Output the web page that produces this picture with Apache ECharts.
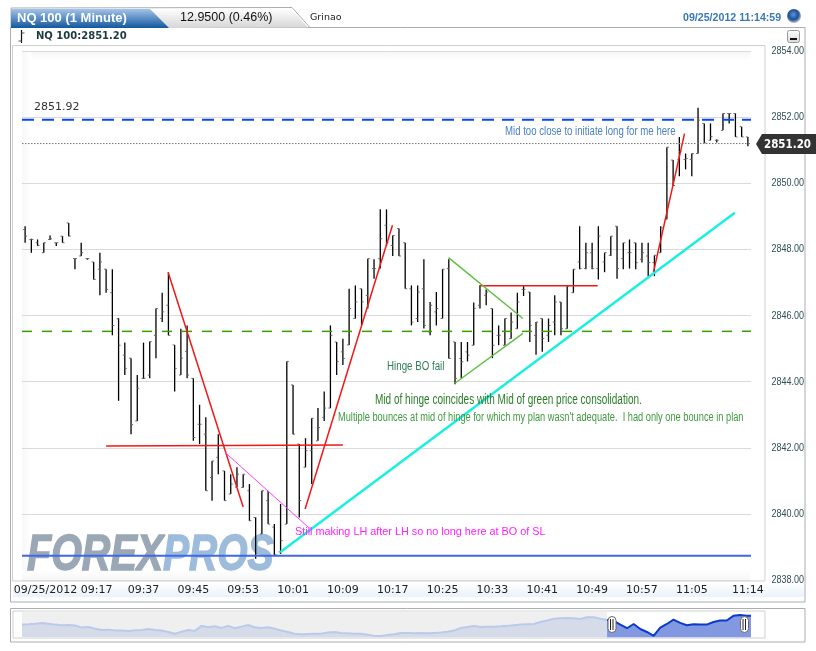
<!DOCTYPE html>
<html><head><meta charset="utf-8">
<style>html,body{margin:0;padding:0;background:#fff}#c{width:816px;height:651px}</style>
<script src="https://cdn.jsdelivr.net/npm/echarts@6/dist/echarts.min.js"></script>
</head><body><div id="c"></div>
<script>
var opens=[2848.60,2848.30,2848.20,2847.90,2848.30,2848.20,2848.40,2848.80,2847.72,2847.80,2847.72,2847.62,2847.40,2847.40,2846.69,
2845.90,2844.80,2844.71,2842.81,2844.10,2844.20,2845.40,2845.91,2846.31,2845.11,2844.20,2844.91,2844.10,2842.71,2842.41,
2841.10,2841.71,2841.30,2840.60,2840.81,2840.80,2840.70,2839.89,2839.39,2840.40,2839.60,2838.85,2839.69,2843.90,2842.11,
2841.41,2841.91,2842.21,2842.92,2843.20,2845.20,2844.90,2845.11,2845.91,2846.81,2846.61,2847.42,2847.72,2848.73,2848.12,
2848.63,2848.20,2846.81,2845.91,2846.81,2845.50,2846.11,2845.91,2847.42,2845.20,2844.70,2844.90,2845.10,2846.31,2846.61,
2846.21,2845.40,2845.10,2845.30,2845.60,2846.79,2846.71,2845.40,2845.91,2845.40,2845.80,2846.41,2845.60,2846.69,2847.62,
2847.42,2847.90,2847.42,2847.62,2847.82,2848.70,2847.72,2847.90,2848.20,2847.70,2847.80,2847.60,2847.90,2848.91,2850.70,
2850.72,2850.72,2850.72,2850.90,2851.81,2851.30,2851.30,2851.60,2852.11,2852.11,2851.71,2851.40];
var highs=[2848.70,2848.32,2848.30,2848.20,2848.42,2848.20,2848.40,2848.80,2847.72,2848.20,2847.73,2847.62,2847.90,2847.40,2847.40,
2845.92,2845.18,2844.71,2844.20,2845.18,2845.21,2846.21,2846.69,2847.30,2845.11,2845.60,2845.70,2844.10,2843.30,2842.92,
2841.60,2842.41,2841.30,2841.20,2841.41,2841.20,2840.90,2839.90,2840.70,2840.70,2839.69,2840.30,2844.61,2843.90,2842.11,
2842.29,2842.89,2843.20,2843.70,2845.70,2845.20,2845.30,2846.81,2846.91,2846.81,2847.72,2847.70,2849.21,2849.21,2848.42,
2848.63,2848.20,2846.91,2846.91,2847.70,2846.41,2846.71,2847.40,2847.70,2845.20,2845.20,2845.20,2846.39,2846.91,2846.79,
2846.21,2845.70,2845.91,2846.09,2846.69,2846.89,2846.71,2845.80,2845.91,2845.91,2846.61,2846.41,2846.89,2847.40,2848.70,
2848.20,2848.20,2848.70,2847.90,2848.40,2848.70,2848.20,2848.30,2848.20,2848.20,2848.20,2847.82,2848.70,2851.09,2850.70,
2851.40,2850.90,2850.90,2852.28,2851.81,2851.81,2851.32,2852.11,2852.11,2852.11,2851.71,2851.40];
var lows=[2848.20,2847.90,2848.10,2847.90,2848.28,2848.10,2848.20,2848.40,2847.40,2847.80,2847.69,2847.09,2846.61,2846.69,2845.40,
2843.42,2844.20,2842.41,2842.81,2844.09,2844.10,2844.71,2845.80,2845.40,2843.70,2844.20,2844.10,2842.21,2842.11,2840.70,
2840.40,2841.20,2840.40,2840.60,2840.81,2840.80,2839.79,2838.64,2839.39,2839.69,2838.73,2838.79,2839.69,2842.41,2839.89,
2841.41,2840.90,2842.21,2842.81,2843.20,2844.20,2844.50,2845.11,2845.91,2845.70,2846.21,2847.11,2847.42,2848.10,2847.80,
2847.80,2846.81,2845.70,2845.80,2845.61,2845.40,2845.70,2845.91,2844.70,2843.92,2844.10,2844.61,2845.10,2846.21,2846.31,
2844.71,2845.10,2845.10,2845.30,2845.60,2846.59,2845.20,2844.81,2844.90,2845.20,2845.40,2845.40,2845.60,2846.69,2847.40,
2847.40,2847.40,2847.09,2847.31,2847.80,2847.11,2847.40,2847.42,2847.40,2847.60,2847.19,2847.19,2847.90,2848.91,2849.93,
2850.21,2850.42,2850.21,2850.90,2851.22,2851.30,2851.23,2851.60,2851.81,2851.40,2851.40,2851.12];
var closes=[2848.40,2848.30,2848.12,2848.20,2848.32,2848.20,2848.20,2848.40,2847.72,2847.90,2847.72,2847.09,2847.62,2846.79,2845.70,
2845.10,2844.40,2842.70,2843.80,2844.10,2845.21,2846.21,2846.11,2845.40,2844.40,2844.71,2844.20,2842.31,2842.71,2840.70,
2841.60,2842.41,2840.40,2840.90,2841.20,2841.20,2839.79,2838.79,2840.70,2839.69,2838.76,2839.19,2844.61,2842.41,2840.40,
2841.91,2842.89,2842.61,2843.20,2845.40,2844.61,2844.70,2846.21,2846.41,2846.41,2847.72,2847.42,2848.32,2848.20,2848.42,
2847.80,2846.81,2845.80,2846.71,2845.70,2846.31,2846.21,2847.40,2844.70,2844.10,2844.60,2844.80,2846.21,2846.91,2846.71,
2845.10,2845.40,2845.91,2845.80,2846.41,2846.79,2845.70,2845.80,2845.30,2845.70,2846.41,2845.60,2846.89,2847.40,2847.42,
2847.90,2847.42,2848.40,2847.90,2848.40,2847.42,2848.20,2847.90,2847.60,2847.90,2847.60,2847.82,2848.65,2851.09,2849.93,
2850.96,2850.75,2850.90,2851.91,2851.22,2851.41,2851.30,2852.11,2852.11,2851.40,2851.40,2851.20];

var yMin=2838, yMax=2854, yStep=2;
var yTicks=[2854,2852,2850,2848,2846,2844,2842,2840,2838];
var tickPositions=[6.1,19,27,35,43,51,59,67,75,83,91,99,107,116];
var tickLabels=['09/25/2012 09:17','09:37','09:45','09:53','10:01','10:09','10:17','10:25','10:33','10:41','10:49','10:57','11:05','11:14'];

var navDim=[2846.1,2846.3,2846.7,2847.2,2846.7,2846.1,2845.7,2845.9,2845.5,2844.2,2844.6,2843.5,2842.7,2842.9,2842.3,2842.3,2842.1,2842.5,2842.7,2843.3,
2842.7,2842.3,2841.4,2840.3,2841.6,2842.7,2842.1,2845.3,2844.4,2845.0,2844.0,2845.3,2843.8,2844.8,2845.9,2844.4,2844.0,2844.4,2843.5,2842.3,
2841.4,2840.3,2839.9,2840.1,2840.3,2840.3,2841.0,2841.4,2840.8,2840.6,2840.3,2840.3,2839.7,2838.9,2838.9,2839.5,2839.9,2840.8,
2840.8,2840.6,2840.8,2840.6,2840.8,2841.0,2841.6,2842.3,2844.0,2844.6,2845.3,2844.6,2844.8,2844.8,2845.0,2845.3,2845.7,2846.1,2846.3,2846.5,
2847.8,2848.7,2849.9,2850.2,2850.4,2850.2,2849.7,2850.8,2850.8,2849.9,2849.1];
var navSel=[2849.1,2848.5,2846.1,2843.8,2846.5,2843.3,2841.4,2838.9,2844.2,2846.5,2849.3,2847.2,2845.7,2846.3,2846.1,2846.1,2847.8,2848.7,2848.7,2851.7,2852.3,2851.7,2851.8];
var navStart=88, navEnd=109.5;

var lastPrice=2851.20, midBlue=2851.92, midGreen=2845.52, swingLow=2838.73;
var segRed=[[[22.95,2847.31],[35,2840.21]],[[44.94,2840.15],[58.96,2848.73]],[[13,2842.05],[51,2842.08]],[[72.9,2846.90],[91.9,2846.90]],[[100.85,2847.31],[105.83,2851.50]]];
var segMagenta=[[32.1,2841.86],[45.47,2839.59]];
var segCyan=[[40.93,2838.84],[113.9,2849.11]];
var segGreen=[[[67.96,2847.75],[79.9,2845.91]],[[68.97,2843.95],[79.9,2845.46]]];

var bars=opens.map(function(o,i){return [i,o,closes[i],lows[i],highs[i]];});
var sans='"Liberation Sans",sans-serif';
var dj='"DejaVu Sans",sans-serif';

function seg(data,color,w,type,z){return {type:'line',xAxisIndex:0,yAxisIndex:0,data:data,showSymbol:false,symbol:'none',silent:true,z:z||5,clip:true,
  lineStyle:{color:color,width:w,type:type||'solid'}};}
function flat(v,color,w,type,z){return seg([[-0.5,v],[116.5,v]],color,w,type,z);}

function txt(x,y,t,font,size,color,opt){opt=opt||{};return {type:'text',z:opt.z===undefined?20:opt.z,silent:true,x:x,y:y,scaleX:opt.sx||1,style:{text:t,fontFamily:font,fontSize:size,fill:color,
  stroke:opt.stroke||null,lineWidth:opt.lw||0,
  fontWeight:opt.weight||'normal',fontStyle:opt.style||'normal',align:opt.align||'left',verticalAlign:'middle'}};}
function rect(x,y,w,h,fill,stroke,z,r){return {type:'rect',z:z,silent:true,shape:{x:x,y:y,width:w,height:h,r:r||0},style:{fill:fill||'none',stroke:stroke||'none',lineWidth:1}};}
function vgrad(a,b){return {type:'linear',x:0,y:0,x2:0,y2:1,colorStops:[{offset:0,color:a},{offset:1,color:b}]};}
function hgrad(a,b){return {type:'linear',x:0,y:0,x2:1,y2:0,colorStops:[{offset:0,color:a},{offset:1,color:b}]};}
function poly(pts,fill,stroke,z){return {type:'polygon',z:z,silent:true,shape:{points:pts},style:{fill:fill||'none',stroke:stroke||'none',lineWidth:1}};}

var gfx=[
 rect(10.5,27.5,794.5,574.5,'#fff','#a9adb0',-20),
 rect(12.5,45.5,752.5,535.5,'#fff','#cfcfcf',-19),
 rect(22,51,728,9,vgrad('#f5f5f5','#ffffff'),null,-18),
 rect(22,51,9,529,hgrad('#f7f7f7','#ffffff'),null,-18),
 rect(22,570,728,10,vgrad('#ffffff','#f6f6f6'),null,-18),
 rect(13,583,791,14,vgrad('#ffffff','#eaf2fb'),null,-18),
 poly([[11,8],[292,7.5],[310,27.5],[11,27.5]],'#fff','#a9adb0',-17),
 poly([[148,9],[291,8.5],[308,27.5],[168,28]],vgrad('#ffffff','#d6d6d6'),null,-16),
 poly([[11,9],[150,9],[169,28],[11,28]],vgrad('#a3c4e8','#12579f'),null,-15),
 txt(17,18,'NQ 100 (1 Minute)',sans,13,'#fff',{weight:'bold'}),
 txt(180,18,'12.9500 (0.46%)',sans,12.5,'#111'),
 txt(310,18,'Grinao',dj,9.5,'#222'),
 txt(683,18,'09/25/2012 11:14:59',sans,11.5,'#3a78b8',{weight:'bold',sx:0.925}),
 {type:'circle',z:20,silent:true,shape:{cx:794,cy:16,r:7},style:{fill:{type:'radial',x:0.45,y:0.4,r:0.6,colorStops:[{offset:0,color:'#5b93d6'},{offset:0.6,color:'#1d4f94'},{offset:1,color:'#b9c2cc'}]}}},
 rect(787.5,30.5,12,12,vgrad('#ffffff','#d8d8d8'),'#999',20,2),
 rect(790,38,7,2,'#111',null,21),
 {type:'line',z:20,silent:true,shape:{x1:21.5,y1:30,x2:21.5,y2:43},style:{stroke:'#111',lineWidth:1.2}},
 {type:'line',z:20,silent:true,shape:{x1:18.5,y1:41,x2:21.5,y2:41},style:{stroke:'#555',lineWidth:1}},
 {type:'line',z:20,silent:true,shape:{x1:21.5,y1:33,x2:24.5,y2:33},style:{stroke:'#555',lineWidth:1}},
 txt(36,36.5,'NQ 100:2851.20',dj,10,'#1d3a40',{weight:'bold'}),
 txt(27,556,'FOREX',sans,50,'#9aa8b6',{weight:'bold',style:'italic',z:-5,sx:0.79,stroke:'#9aa8b6',lw:1.5}),
 txt(163,556,'PROS',sans,50,'#9dbcdc',{weight:'bold',style:'italic',z:-5,sx:0.78,stroke:'#9dbcdc',lw:1.5}),
 txt(34,107,'2851.92',dj,11,'#333'),
 txt(505,132,'Mid too close to initiate long for me here',sans,12.5,'#4a80c2',{sx:0.77}),
 txt(387,367,'Hinge BO fail',sans,12.5,'#2f7d55',{sx:0.78}),
 txt(375,400,'Mid of hinge coincides with Mid of green price consolidation.',sans,14,'#2a7d2a',{sx:0.716}),
 txt(338,418,'Multiple bounces at mid of hinge for which my plan wasn\'t adequate.  I had only one bounce in plan',sans,12,'#3f9a3f',{sx:0.771}),
 txt(295,532,'Still making LH after LH so no long here at BO of SL',sans,11,'#ff20ff',{sx:0.985}),
 poly([[756,144],[762,134],[816,134],[816,154],[762,154]],'#333',null,20),
 txt(764,144.5,'2851.20',dj,12,'#fff',{weight:'bold',z:21,sx:0.86}),
 rect(10.5,608.5,794.5,33.5,'#fff','#a9adb0',-20),
 rect(13,611,752,27,'#fff','#cfcfcf',-19),
 rect(22,611.5,585,26,'#efefef',null,-18),
 rect(608,616.5,8,16,'#fff','#666',30,4),
 rect(610,619,1,11,'#222',null,31),rect(612.5,619,1,11,'#222',null,31),
 rect(740.5,616.5,8,16,'#fff','#666',30,4),
 rect(742.5,619,1,11,'#222',null,31),rect(745,619,1,11,'#222',null,31)
];

var option={
 animation:false,
 backgroundColor:'#fff',
 grid:[{left:22,top:51,width:729,height:529},{left:22,top:611,width:728,height:26.3}],
 xAxis:[
  {type:'value',gridIndex:0,min:-0.5,max:116.5,splitLine:{show:false},axisLine:{show:false},axisTick:{show:false},
   axisLabel:{customValues:tickPositions,color:'#222',fontFamily:dj,fontSize:11,margin:5,hideOverlap:false,
     formatter:function(v){var i=tickPositions.indexOf(v);return i<0?'':tickLabels[i];}}},
  {type:'value',gridIndex:1,min:0,max:navEnd,show:false}
 ],
 yAxis:[
  {type:'value',gridIndex:0,position:'right',min:yMin,max:yMax,interval:yStep,axisLine:{show:false},axisTick:{show:false},
   splitLine:{lineStyle:{color:'#dadada',width:1}},axisLabel:{show:false}},
  {type:'value',gridIndex:1,min:yMin,max:2854.8,show:false}
 ],
 series:[
  {type:'custom',xAxisIndex:0,yAxisIndex:0,silent:true,z:3,clip:false,
   data:yTicks.map(function(v){return [116.5,v];}),encode:{x:0,y:1},
   renderItem:function(p,api){
     var c=api.coord([api.value(0),api.value(1)]);
     return {type:'text',x:c[0]+20.5,y:c[1],scaleX:0.82,style:{text:api.value(1).toFixed(2),fontFamily:sans,fontSize:11,fill:'#2f4f55',verticalAlign:'middle',align:'left'}};
   }},
  {type:'custom',xAxisIndex:0,yAxisIndex:0,silent:true,z:3,clip:true,
   data:bars,encode:{x:0,y:[1,2,3,4]},
   renderItem:function(p,api){
     var x=api.coord([api.value(0),0])[0];
     var yo=api.coord([0,api.value(1)])[1],yc=api.coord([0,api.value(2)])[1];
     var yl=api.coord([0,api.value(3)])[1],yh=api.coord([0,api.value(4)])[1];
     return {type:'group',children:[
       {type:'line',shape:{x1:x,y1:yl,x2:x,y2:yh},style:{stroke:'#000',lineWidth:1.3}},
       {type:'line',shape:{x1:x-2,y1:yo,x2:x,y2:yo},style:{stroke:'#666',lineWidth:1}},
       {type:'line',shape:{x1:x,y1:yc,x2:x+2,y2:yc},style:{stroke:'#666',lineWidth:1}}
     ]};
   }},
  flat(midBlue,'#0a46f0',2,[12,8],6),
  flat(midGreen,'#36a000',1.5,[10,10],4),
  flat(lastPrice,'#777',1,[1.5,1.5],4),
  flat(swingLow,'#3f68e8',2,'solid',4),
  seg(segRed[0],'#f01818',1.5),seg(segRed[1],'#f01818',1.5),seg(segRed[2],'#f01818',1.5,'solid',4),seg(segRed[3],'#f01818',1.5),seg(segRed[4],'#f01818',1.5),
  seg(segMagenta,'#ff40ff',1),
  seg(segCyan,'#19f0e0',2.5),
  seg(segGreen[0],'#5cc040',1.4),seg(segGreen[1],'#5cc040',1.4),
  {type:'line',xAxisIndex:1,yAxisIndex:1,symbol:'none',silent:true,z:2,clip:true,
   data:navDim.map(function(v,i){return [i,v];}),
   lineStyle:{color:'#bccaea',width:2},areaStyle:{color:'#d5dbe9',opacity:1}},
  {type:'line',xAxisIndex:1,yAxisIndex:1,symbol:'none',silent:true,z:3,clip:true,
   data:navSel.map(function(v,i){return [navStart+i,v];}),
   lineStyle:{color:'#0a3cc8',width:2},areaStyle:{color:'#8298e0',opacity:1}}
 ],
 graphic:{elements:gfx}
};
echarts.init(document.getElementById('c'),null,{renderer:'canvas'}).setOption(option);
</script></body></html>
